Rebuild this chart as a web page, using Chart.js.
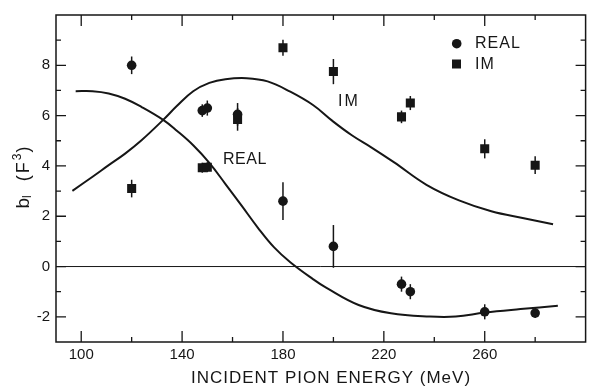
<!DOCTYPE html>
<html>
<head>
<meta charset="utf-8">
<script src="https://cdn.jsdelivr.net/npm/chart.js@4/dist/chart.umd.min.js"></script>
<style>
  body { margin: 0; background: #fff; }
  #wrap { width: 592px; height: 387px; }
</style>
</head>
<body>
<div id="wrap"><canvas id="chart"></canvas></div>
<script>
// measured points (MeV, F^3)
const realEnergies = [120, 148, 150, 162, 180, 200, 227, 230.5, 260, 280];
const realValues = [8.0, 6.2, 6.3, 6.05, 2.6, 0.8, -0.7, -1.0, -1.8, -1.85];
const realErrors = [0.35, 0.25, 0.3, 0.45, 0.75, 0.85, 0.3, 0.3, 0.3, 0.2];

const imEnergies = [120, 148, 150, 162, 180, 200, 227, 230.5, 260, 280];
const imValues = [3.1, 3.93, 3.95, 5.85, 8.7, 7.75, 5.95, 6.5, 4.68, 4.03];
const imErrors = [0.35, 0.2, 0.2, 0.45, 0.32, 0.5, 0.25, 0.28, 0.38, 0.35];

// theory curves
const realCurveX = [97.8, 104.5, 110.9, 117.4, 123.8, 132.5, 137.9, 144.4, 150.8, 157.2, 163.6, 170, 176.5, 182.9, 191.9, 197.1, 210, 222.8, 238.2, 248.5, 260, 274.2, 289];
const realCurveY = [6.97, 6.97, 6.88, 6.67, 6.35, 5.83, 5.40, 4.82, 4.12, 3.28, 2.42, 1.55, 0.76, 0.17, -0.50, -0.84, -1.53, -1.86, -1.99, -1.99, -1.83, -1.69, -1.56];

const imCurveX = [96.5, 104.5, 110.9, 117.4, 123.8, 132.5, 137.9, 144.4, 150.8, 157.2, 165.6, 173.9, 182.9, 191.9, 199.6, 207.3, 215, 224.1, 236.9, 249.8, 262.6, 275.5, 287.1];
const imCurveY = [3.01, 3.57, 4.03, 4.49, 5.01, 5.83, 6.38, 6.97, 7.30, 7.45, 7.49, 7.36, 6.95, 6.42, 5.79, 5.22, 4.74, 4.14, 3.25, 2.63, 2.20, 1.92, 1.68];

// axes
const xTicks = [100, 140, 180, 220, 260];
const xMinorTicks = [120, 160, 200, 240, 280];
const yTicks = [-2, 0, 2, 4, 6, 8];
const yMinorTicks = [-1, 1, 3, 5, 7, 9];

const ink = "#161616";
const fontName = '"Liberation Sans", Arial, sans-serif';

const toPoints = (xs, ys) => xs.map((x, i) => ({ x: x, y: ys[i] }));

// frame, inward ticks, error bars and all the lettering
const framePlugin = {
  id: "frame",
  beforeDatasetsDraw(chart) {
    const { ctx, chartArea: a, scales: { x, y } } = chart;
    ctx.save();
    ctx.strokeStyle = ink;
    ctx.lineWidth = 1;
    const y0 = y.getPixelForValue(0);
    ctx.beginPath();
    ctx.moveTo(a.left, y0);
    ctx.lineTo(a.right, y0);
    ctx.stroke();

    ctx.lineWidth = 1.5;
    const bars = (xs, ys, es) => {
      xs.forEach((v, i) => {
        const px = x.getPixelForValue(v);
        ctx.beginPath();
        ctx.moveTo(px, y.getPixelForValue(ys[i] - es[i]));
        ctx.lineTo(px, y.getPixelForValue(ys[i] + es[i]));
        ctx.stroke();
      });
    };
    bars(realEnergies, realValues, realErrors);
    bars(imEnergies, imValues, imErrors);
    ctx.restore();
  },
  afterDraw(chart) {
    const { ctx, chartArea: a, scales: { x, y } } = chart;
    ctx.save();
    ctx.strokeStyle = ink;
    ctx.fillStyle = ink;
    ctx.lineWidth = 1.5;
    ctx.strokeRect(a.left, a.top, a.right - a.left, a.bottom - a.top);

    ctx.lineWidth = 1.3;
    const xTick = (v, len) => {
      const px = x.getPixelForValue(v);
      ctx.beginPath();
      ctx.moveTo(px, a.bottom); ctx.lineTo(px, a.bottom - len);
      ctx.moveTo(px, a.top); ctx.lineTo(px, a.top + len);
      ctx.stroke();
    };
    const yTick = (v, len) => {
      const py = y.getPixelForValue(v);
      ctx.beginPath();
      ctx.moveTo(a.left, py); ctx.lineTo(a.left + len, py);
      ctx.moveTo(a.right, py); ctx.lineTo(a.right - len, py);
      ctx.stroke();
    };
    xTicks.forEach((v) => xTick(v, 11));
    xMinorTicks.forEach((v) => xTick(v, 5));
    yTicks.forEach((v) => yTick(v, 10));
    yMinorTicks.forEach((v) => yTick(v, 5));

    // x title
    ctx.textBaseline = "middle";
    ctx.textAlign = "center";
    ctx.font = "17px " + fontName;
    ctx.letterSpacing = "1px";
    ctx.fillText("INCIDENT PION ENERGY (MeV)", 331, 378);

    // y title: b_l (F^3), rotated
    ctx.translate(28.5, 177.5);
    ctx.rotate(-Math.PI / 2);
    ctx.textAlign = "left";
    ctx.textBaseline = "alphabetic";
    const parts = [
      { t: "b", size: 19, dy: 0, sp: 0 },
      { t: "l", size: 12, dy: 2.5, sp: 0 },
      { t: "  (F", size: 18, dy: 0, sp: 2 },
      { t: "3", size: 12, dy: -8, sp: 1 },
      { t: ")", size: 18, dy: 0, sp: 0 },
    ];
    let total = 0;
    parts.forEach((p) => {
      ctx.font = p.size + "px " + fontName;
      ctx.letterSpacing = p.sp + "px";
      p.w = ctx.measureText(p.t).width;
      total += p.w;
    });
    let cx = -total / 2;
    parts.forEach((p) => {
      ctx.font = p.size + "px " + fontName;
      ctx.letterSpacing = p.sp + "px";
      ctx.fillText(p.t, cx, p.dy);
      cx += p.w;
    });
    ctx.setTransform(1, 0, 0, 1, 0, 0);

    // legend
    ctx.font = "16px " + fontName;
    ctx.letterSpacing = "1px";
    ctx.textAlign = "left";
    ctx.textBaseline = "middle";
    ctx.beginPath();
    ctx.arc(456.7, 43.7, 4.8, 0, Math.PI * 2);
    ctx.fill();
    ctx.fillText("REAL", 475, 44);
    ctx.fillRect(452, 59.5, 9, 9);
    ctx.fillText("IM", 475, 64.5);

    // curve labels
    ctx.letterSpacing = "0.5px";
    ctx.fillText("REAL", 223, 159.5);
    ctx.letterSpacing = "2px";
    ctx.fillText("IM", 338, 101.5);
    ctx.restore();
  },
};

const chartConfig = {
  type: "scatter",
  data: {
    datasets: [
      {
        label: "REAL",
        data: toPoints(realEnergies, realValues),
        pointStyle: "circle",
        pointRadius: 4.8,
        backgroundColor: ink,
        borderWidth: 0,
      },
      {
        label: "IM",
        data: toPoints(imEnergies, imValues),
        pointStyle: "rect",
        pointRadius: 6.4,
        backgroundColor: ink,
        borderWidth: 0,
      },
      {
        label: "REAL theory",
        data: toPoints(realCurveX, realCurveY),
        showLine: true,
        pointRadius: 0,
        borderColor: ink,
        borderWidth: 2,
        tension: 0.4,
      },
      {
        label: "IM theory",
        data: toPoints(imCurveX, imCurveY),
        showLine: true,
        pointRadius: 0,
        borderColor: ink,
        borderWidth: 2,
        tension: 0.4,
      },
    ],
  },
  options: {
    responsive: true,
    maintainAspectRatio: false,
    animation: false,
    layout: { padding: { top: 11, right: -9, bottom: 0, left: 0 } },
    plugins: { legend: { display: false }, tooltip: { enabled: false } },
    scales: {
      x: {
        type: "linear",
        min: 90,
        max: 300,
        grid: { display: false, drawTicks: false },
        border: { display: false },
        ticks: { color: ink, font: { size: 15, family: fontName }, padding: 4 },
        afterBuildTicks: (s) => { s.ticks = xTicks.map((v) => ({ value: v })); },
        afterFit: (s) => { s.height = 45; },
      },
      y: {
        type: "linear",
        min: -3,
        max: 10,
        grid: { display: false, drawTicks: false },
        border: { display: false },
        ticks: { color: ink, font: { size: 15, family: fontName }, padding: 6 },
        afterBuildTicks: (s) => { s.ticks = yTicks.map((v) => ({ value: v })); },
        afterFit: (s) => { s.width = 56; },
      },
    },
  },
  plugins: [framePlugin],
};

const chartCanvas = document.getElementById("chart");
chartCanvas.chart = new Chart(chartCanvas, chartConfig);
</script>
</body>
</html>
